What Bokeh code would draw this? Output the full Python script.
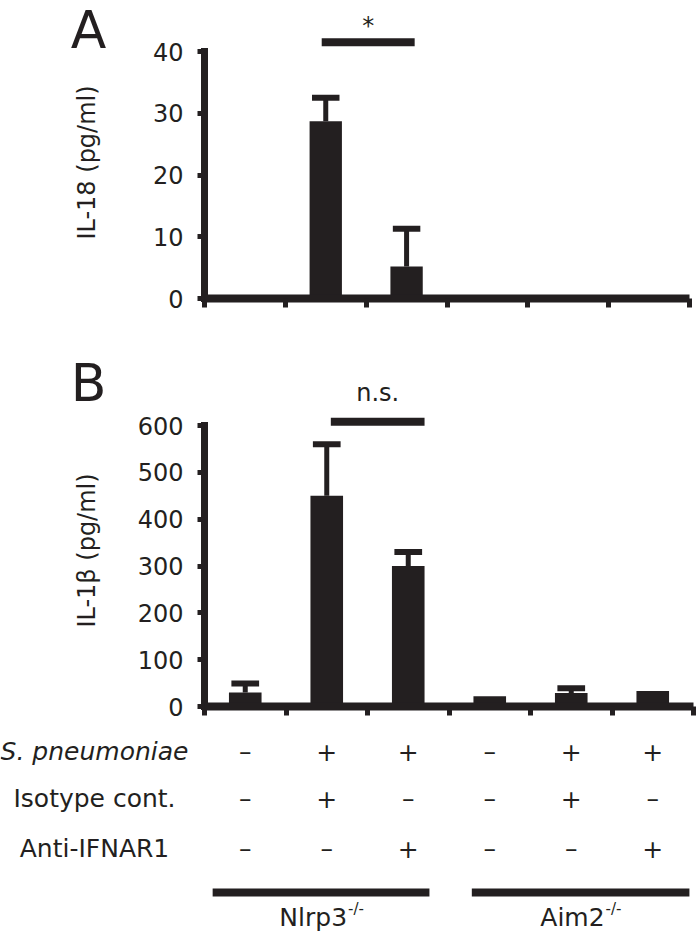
import math
from bokeh.plotting import figure
from bokeh.layouts import column, row
from bokeh.models import Range1d, FixedTicker
from bokeh.core.properties import value
from bokeh.embed import file_html
from bokeh.resources import INLINE

FONT = "DejaVu Sans"
INK = "#231f20"

# ---------------- data ----------------
x_centers = [0.5, 1.5, 2.5, 3.5, 4.5, 5.5]
il18_mean = [0.3, 28.7, 5.2, 0.3, 0.3, 0.3]
il18_sd = [0.0, 3.8, 6.1, 0.0, 0.0, 0.0]
il1b_mean = [30, 450, 300, 22, 29, 33]
il1b_sd = [19, 110, 30, 0, 10, 0]
il18_ticks = [0, 10, 20, 30, 40]
il1b_ticks = [0, 100, 200, 300, 400, 500, 600]
boundary_ticks = [0, 1, 2, 3, 4, 5, 6]

row_labels = ["S. pneumoniae", "Isotype cont.", "Anti-IFNAR1"]
row_styles = ["italic", "normal", "normal"]
s_pneumoniae = ["\u2013", "+", "+", "\u2013", "+", "+"]
isotype_cont = ["\u2013", "+", "\u2013", "\u2013", "+", "\u2013"]
anti_ifnar1 = ["\u2013", "\u2013", "+", "\u2013", "\u2013", "+"]

genotypes = ["Nlrp3", "Aim2"]
genotype_sup = ["-/-", "-/-"]
genotype_start = [0.10, 3.28]
genotype_end = [2.76, 5.95]

sig_a_span = [1.45, 2.60]
sig_a_y = 41.5
sig_a_text = "*"
sig_b_span = [1.55, 2.70]
sig_b_y = 608
sig_b_text = "n.s."

LEFT_W = 120
BAR_W = 0.4
CAP_HALF = 0.17


def no_align(p):
    try:
        p.frame_align = False
    except Exception:
        pass


def label_fig(height, letter, letter_y, ylabel, ylabel_y):
    f = figure(width=LEFT_W, height=height, x_range=Range1d(0, LEFT_W),
               y_range=Range1d(height, 0), output_backend="svg",
               toolbar_location=None, x_axis_location=None,
               y_axis_location=None, min_border=0, min_border_left=0,
               min_border_right=0, min_border_top=0, min_border_bottom=0)
    f.outline_line_color = None
    f.grid.grid_line_color = None
    no_align(f)
    f.text(x=[88], y=[letter_y], text=[letter], text_font=value(FONT),
           text_font_size="52px", text_align="center",
           text_baseline="middle", text_color=INK)
    f.text(x=[86], y=[ylabel_y], text=[ylabel], text_font=value(FONT),
           text_font_size="24px", text_align="center",
           text_baseline="middle", angle=math.pi / 2, text_color=INK)
    return f


def make_panel(mean, sd, ticks, px_per_unit, width, height, top_b, bottom_b,
               right_b):
    frame_h = height - top_b - bottom_b
    ytop = frame_h / px_per_unit
    p = figure(width=width, height=height, x_range=Range1d(0, 6),
               y_range=Range1d(0, ytop), output_backend="svg",
               toolbar_location=None, min_border_left=84,
               min_border_right=right_b, min_border_top=top_b,
               min_border_bottom=bottom_b)
    no_align(p)
    p.outline_line_color = None
    p.grid.grid_line_color = None

    ya = p.yaxis[0]
    ya.ticker = FixedTicker(ticks=ticks)
    ya.bounds = (ticks[0], ticks[-1])
    ya.axis_line_width = 7
    ya.axis_line_color = INK
    ya.axis_line_cap = "square"
    ya.major_tick_line_width = 5
    ya.major_tick_line_color = INK
    ya.major_tick_out = 7
    ya.major_tick_in = 0
    ya.minor_tick_line_color = None
    ya.major_label_text_font = FONT
    ya.major_label_text_font_size = "24px"
    ya.major_label_text_color = INK
    ya.major_label_standoff = 14

    xa = p.xaxis[0]
    xa.ticker = FixedTicker(ticks=boundary_ticks)
    xa.axis_line_width = 8
    xa.axis_line_color = INK
    xa.major_tick_line_width = 5
    xa.major_tick_line_color = INK
    xa.major_tick_out = 9
    xa.major_tick_in = 0
    xa.minor_tick_line_color = None
    xa.major_label_text_color = None
    xa.major_label_text_font_size = "1px"

    p.vbar(x=x_centers, top=mean, bottom=0, width=BAR_W, fill_color=INK,
           line_color=None)
    ex = [x for x, s in zip(x_centers, sd) if s > 0]
    eb = [m for m, s in zip(mean, sd) if s > 0]
    et = [m + s for m, s in zip(mean, sd) if s > 0]
    p.segment(x0=ex, y0=eb, x1=ex, y1=et, line_width=5, line_color=INK)
    p.segment(x0=[x - CAP_HALF for x in ex], y0=et,
              x1=[x + CAP_HALF for x in ex], y1=et, line_width=6,
              line_color=INK)
    return p


# ---------------- panel A ----------------
HA = 340
la = label_fig(HA, "A", 29, "IL-18 (pg/ml)", 162)
pa = make_panel(il18_mean, il18_sd, il18_ticks, 247 / 40, 700 - LEFT_W, HA,
                10, 42, 11)
pa.segment(x0=[sig_a_span[0]], y0=[sig_a_y], x1=[sig_a_span[1]],
           y1=[sig_a_y], line_width=8, line_color=INK)
pa.text(x=[sum(sig_a_span) / 2], y=[sig_a_y + 2.6], text=[sig_a_text],
        text_font=value(FONT), text_font_size="24px", text_align="center",
        text_baseline="middle", text_color=INK)

# ---------------- panel B ----------------
HB = 390
lb = label_fig(HB, "B", 42, "IL-1\u03b2 (pg/ml)", 210)
pb = make_panel(il1b_mean, il1b_sd, il1b_ticks, 281 / 600, 700 - LEFT_W, HB,
                36, 24, 7)
pb.segment(x0=[sig_b_span[0]], y0=[sig_b_y], x1=[sig_b_span[1]],
           y1=[sig_b_y], line_width=8, line_color=INK)
pb.text(x=[sum(sig_b_span) / 2], y=[670], text=[sig_b_text],
        text_font=value(FONT), text_font_size="24px", text_align="center",
        text_baseline="middle", text_color=INK)

# ---------------- condition table ----------------
HC = 205
ppu = 489 / 6
pc = figure(width=700, height=HC, x_range=Range1d(-204 / ppu, 496 / ppu),
            y_range=Range1d(HC, 0), output_backend="svg",
            toolbar_location=None, x_axis_location=None, y_axis_location=None,
            min_border=0, min_border_left=0, min_border_right=0,
            min_border_top=0, min_border_bottom=0)
no_align(pc)
pc.outline_line_color = None
pc.grid.grid_line_color = None

row_y = [21, 68, 118]
for ry, lab, sty, signs in zip(row_y, row_labels, row_styles,
                               [s_pneumoniae, isotype_cont, anti_ifnar1]):
    pc.text(x=[-110 / ppu], y=[ry], text=[lab], text_font=value(FONT),
            text_font_size="25px", text_font_style=sty, text_align="center",
            text_baseline="middle", text_color=INK)
    pc.text(x=x_centers, y=[ry] * 6, text=signs, text_font=value(FONT),
            text_font_size="25px", text_align="center",
            text_baseline="middle", text_color=INK)

pc.segment(x0=genotype_start, y0=[162, 162], x1=genotype_end, y1=[162, 162],
           line_width=8, line_color=INK)
gcent = [(a + b) / 2 for a, b in zip(genotype_start, genotype_end)]
pc.text(x=gcent, y=[187, 187], text=genotypes, text_font=value(FONT),
        text_font_size="25px", text_align="right", text_baseline="middle",
        x_offset=[26, 24], text_color=INK)
pc.text(x=gcent, y=[187, 187], text=genotype_sup, text_font=value(FONT),
        text_font_size="15px", text_align="left", text_baseline="middle",
        x_offset=[27, 25], y_offset=-9, text_color=INK)

layout = column(row(la, pa), row(lb, pb), pc)
open("out.html", "w").write(file_html(layout, INLINE))
